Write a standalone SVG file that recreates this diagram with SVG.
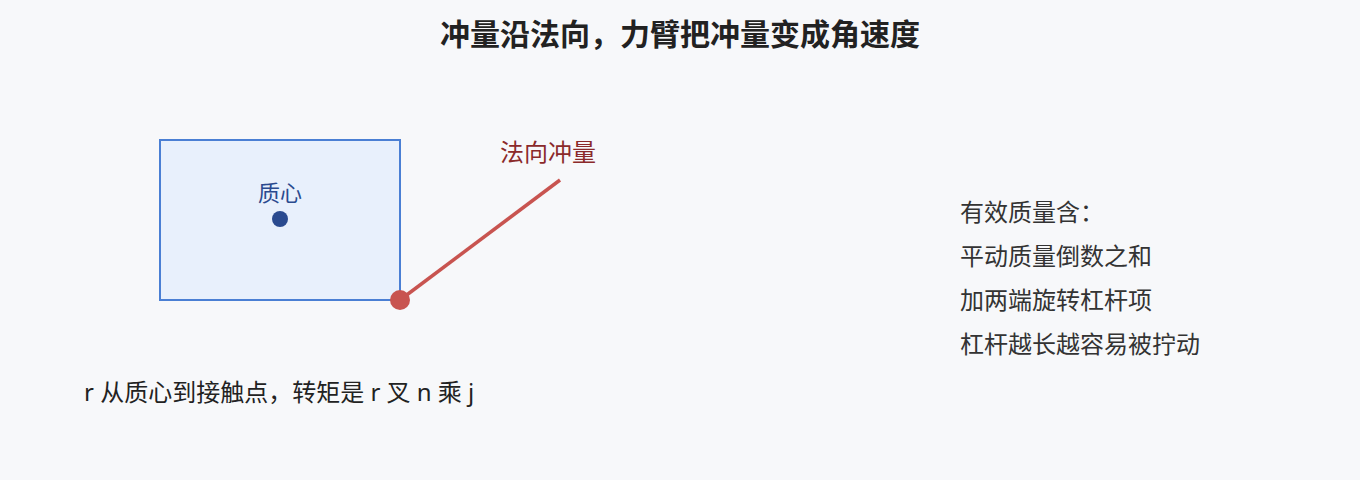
<svg xmlns="http://www.w3.org/2000/svg" width="1360" height="480" viewBox="0 0 1360 480">
<style>
text{font-family:"Noto Sans","Noto Sans CJK SC",sans-serif}
.title{font-size:30px;font-weight:bold;fill:#222}
.note{font-size:24px;fill:#333}
</style>
<rect width="1360" height="480" fill="#f7f8fa"/>
<text class="title" x="680" y="45" text-anchor="middle">冲量沿法向，力臂把冲量变成角速度</text>
<g id="body">
<rect x="160" y="140" width="240" height="160" fill="#e8f0fc" stroke="#4a7fd4" stroke-width="2"/>
<text x="280" y="201" text-anchor="middle" font-size="22" fill="#2a4a8f">质心</text>
<circle cx="280" cy="219" r="8" fill="#2a4a8f"/>
</g>
<g id="connectors">
<line x1="400" y1="300" x2="560" y2="180" stroke="#c85450" stroke-width="3.5"/>
</g>
<g id="contact">
<circle cx="400" cy="300" r="10" fill="#c85450"/>
</g>
<g id="impulse-label">
<text x="548" y="161" text-anchor="middle" font-size="24" fill="#8b2a2a">法向冲量</text>
</g>
<g id="notes">
<text class="note" x="960" y="221">有效质量含：</text>
<text class="note" x="960" y="265">平动质量倒数之和</text>
<text class="note" x="960" y="309">加两端旋转杠杆项</text>
<text class="note" x="960" y="353">杠杆越长越容易被拧动</text>
</g>
<text x="84" y="401" font-size="24" fill="#222">r 从质心到接触点，转矩是 r 叉 n 乘 j</text>
</svg>
